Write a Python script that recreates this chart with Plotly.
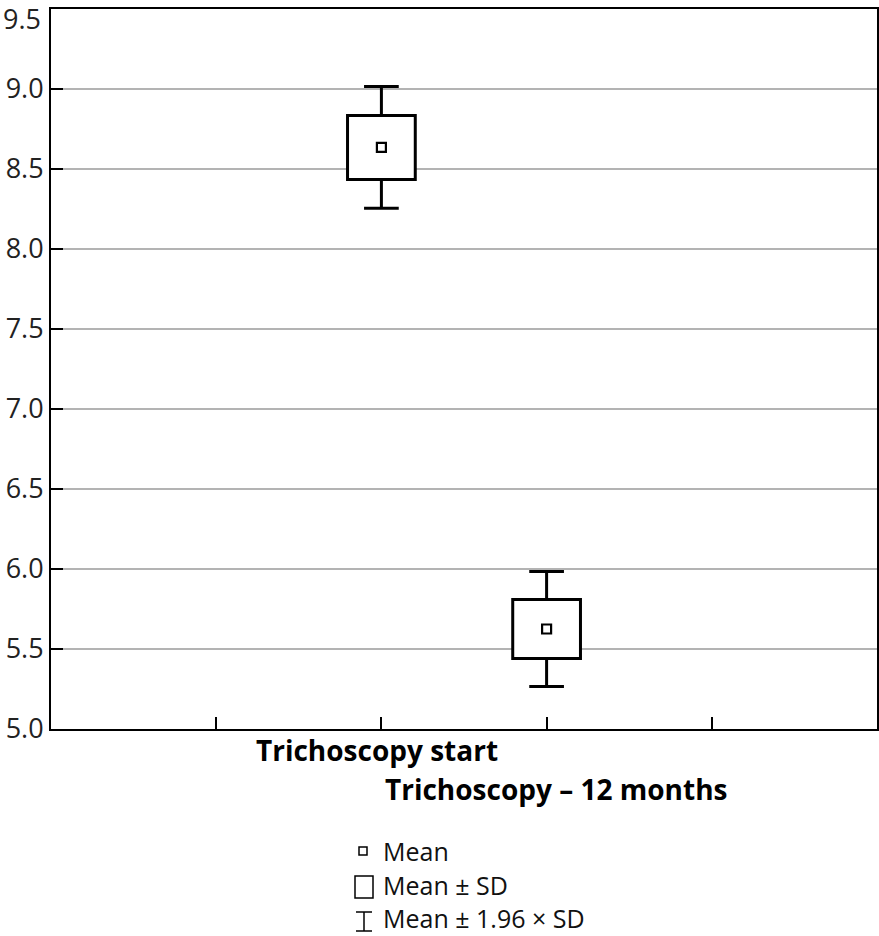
import plotly.graph_objects as go

categories = ["Trichoscopy start", "Trichoscopy – 12 months"]
means = [8.635, 5.625]
sds = [0.200, 0.185]
whisker_lo = [8.255, 5.265]
whisker_hi = [9.015, 5.985]
y_ticks = [5.0, 5.5, 6.0, 6.5, 7.0, 7.5, 8.0, 8.5, 9.0, 9.5]
legend_labels = ["Mean", "Mean ± SD", "Mean ± 1.96 × SD"]

W, H = 879, 936
ML, MR, MT, MB = 51, 2, 9, 207
PW, PH = W - ML - MR, H - MT - MB
FONT = "Open Sans"

positions = [1, 2]
box_half = 0.205
cap_half = 0.105

fig = go.Figure()
shapes = []
for xp, m, s, lo, hi in zip(positions, means, sds, whisker_lo, whisker_hi):
    fig.add_trace(go.Scatter(x=[xp, xp, None, xp, xp], y=[m + s, hi, None, m - s, lo],
                             mode="lines", line=dict(color="black", width=3),
                             showlegend=False, hoverinfo="skip"))
    fig.add_trace(go.Scatter(x=[xp - cap_half, xp + cap_half, None, xp - cap_half, xp + cap_half],
                             y=[hi, hi, None, lo, lo], mode="lines",
                             line=dict(color="black", width=3), showlegend=False, hoverinfo="skip"))
    shapes.append(dict(type="rect", xref="x", yref="y", x0=xp - box_half, x1=xp + box_half,
                       y0=m - s, y1=m + s, line=dict(color="black", width=3),
                       fillcolor="white", layer="between"))

fig.add_trace(go.Scatter(x=positions, y=means, mode="markers",
                         marker=dict(symbol="square", size=9, color="white",
                                     line=dict(color="black", width=2.2)),
                         showlegend=False, hoverinfo="skip"))

def px2paper(px, py):
    return (px - ML) / PW, (H - MB - py) / PH

def rect(x0, y0, x1, y1, w=1.5):
    a = px2paper(x0, y1); b = px2paper(x1, y0)
    shapes.append(dict(type="rect", xref="paper", yref="paper", x0=a[0], y0=a[1], x1=b[0], y1=b[1],
                       line=dict(color="black", width=w), fillcolor="white"))

def line(x0, y0, x1, y1, w=1.5):
    a = px2paper(x0, y0); b = px2paper(x1, y1)
    shapes.append(dict(type="line", xref="paper", yref="paper", x0=a[0], y0=a[1], x1=b[0], y1=b[1],
                       line=dict(color="black", width=w)))

rect(359, 847, 367, 855)
rect(355, 876, 373, 898)
line(356, 912, 372, 912)
line(356, 931, 372, 931)
line(364, 912, 364, 931)

annotations = []
for lab, py in zip(legend_labels, [851, 885, 918]):
    xp, yp = px2paper(381, py)
    annotations.append(dict(text=lab, x=xp, y=yp, xref="paper", yref="paper",
                            xanchor="left", yanchor="middle", showarrow=False,
                            font=dict(family=FONT, size=25, color="#111")))

for xp, lab, py in zip(positions, categories, [750, 789]):
    _, yp = px2paper(0, py)
    annotations.append(dict(text="<b>" + lab + "</b>", x=xp, y=yp, xref="x", yref="paper",
                            xanchor="center", yanchor="middle", showarrow=False,
                            xshift=-4 if xp == 1 else 9,
                            font=dict(family=FONT, size=28, color="black")))

# top tick label (9.5) sits just inside the figure, shifted down as in the original
top_label_x, top_label_y = px2paper(43, 19)
annotations.append(dict(text=f"{y_ticks[-1]:.1f}", x=top_label_x, y=top_label_y,
                        xref="paper", yref="paper", xanchor="right", yanchor="middle",
                        showarrow=False, font=dict(family=FONT, size=27, color="#222")))

fig.update_layout(
    width=W, height=H, margin=dict(l=ML, r=MR, t=MT, b=MB, autoexpand=False),
    paper_bgcolor="white", plot_bgcolor="white",
    shapes=shapes, annotations=annotations,
    xaxis=dict(range=[-1, 4], tickvals=[0, 1, 2, 3], showticklabels=False,
               ticks="inside", ticklen=12, tickwidth=2, tickcolor="black",
               showline=True, linecolor="black", linewidth=2, mirror=True,
               showgrid=False, zeroline=False, automargin=False),
    yaxis=dict(range=[5.0, 9.5], tickvals=y_ticks,
               ticktext=[f"{v:.1f}" for v in y_ticks[:-1]] + [""],
               ticks="inside", ticklen=12, tickwidth=2, tickcolor="black",
               showline=True, linecolor="black", linewidth=2, mirror=True,
               showgrid=True, gridcolor="#b3b3b3", gridwidth=2, zeroline=False,
               automargin=False, ticklabelstandoff=0,
               tickfont=dict(family=FONT, size=27, color="#222")),
)
fig.write_html("out.html", config={"displayModeBar": False},
               post_script="document.body.style.margin='0';document.body.style.overflow='hidden';")
